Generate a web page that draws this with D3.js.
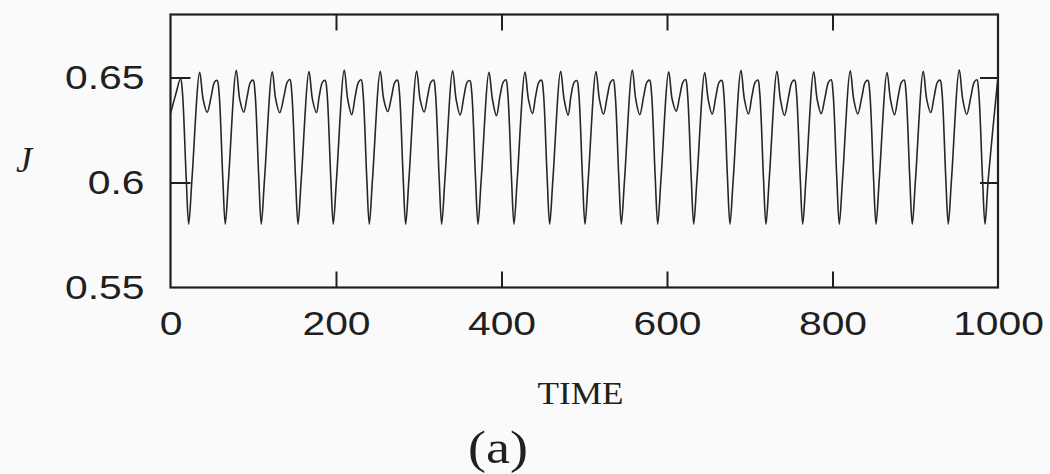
<!DOCTYPE html>
<html>
<head>
<meta charset="utf-8">
<script src="https://cdn.jsdelivr.net/npm/d3@7"></script>
<style>
  html, body { margin: 0; padding: 0; background: #fafafa; }
  svg { display: block; }
</style>
</head>
<body>
<svg id="chart" width="1050" height="474"></svg>
<script>
// Axis ticks and labels
const xTicks = [0, 200, 400, 600, 800, 1000];
const xTickLabels = ["0", "200", "400", "600", "800", "1000"];
const yTicks = [0.55, 0.6, 0.65];
const yTickLabels = ["0.55", "0.6", "0.65"];
const xInnerTicks = [200, 400, 600, 800];
const yInnerTicks = [0.6, 0.65];

// J(t): trough, rise, first peak, dip, second peak, fall — one row per cycle
const time = [
  0.0, 6.0, 12.2, 14.4, 19.0,
  22.0, 26.0, 35.3, 39.5, 44.3, 49.2, 53.2, 56.4, 58.6, 63.2,
  66.2, 70.2, 79.5, 83.7, 88.5, 92.7, 96.7, 99.9, 102.1, 106.7,
  109.7, 113.7, 123.0, 127.2, 132.0, 137.1, 141.1, 144.3, 146.5, 151.1,
  154.1, 158.1, 167.4, 171.6, 176.4, 179.7, 183.7, 186.9, 189.1, 193.7,
  196.7, 200.7, 210.0, 214.2, 219.0, 223.2, 227.2, 230.4, 232.6, 237.2,
  240.2, 244.2, 253.5, 257.7, 262.5, 267.2, 271.2, 274.4, 276.6, 281.2,
  284.2, 288.2, 297.5, 301.7, 306.5, 310.7, 314.7, 317.9, 320.1, 324.7,
  327.7, 331.7, 341.0, 345.2, 350.0, 354.6, 358.6, 361.8, 364.0, 368.6,
  371.6, 375.6, 384.9, 389.1, 393.9, 398.1, 402.1, 405.3, 407.5, 412.1,
  415.1, 419.1, 428.4, 432.6, 437.4, 441.2, 445.2, 448.4, 450.6, 455.2,
  458.2, 462.2, 471.5, 475.7, 480.5, 483.9, 487.9, 491.1, 493.3, 497.9,
  500.9, 504.9, 514.2, 518.4, 523.2, 527.8, 531.8, 535.0, 537.2, 541.8,
  544.8, 548.8, 558.1, 562.3, 567.1, 571.8, 575.8, 579.0, 581.2, 585.8,
  588.8, 592.8, 602.1, 606.3, 611.1, 615.3, 619.3, 622.5, 624.7, 629.3,
  632.3, 636.3, 645.6, 649.8, 654.6, 659.1, 663.1, 666.3, 668.5, 673.1,
  676.1, 680.1, 689.4, 693.6, 698.4, 702.6, 706.6, 709.8, 712.0, 716.6,
  719.6, 723.6, 732.9, 737.1, 741.9, 747.0, 751.0, 754.2, 756.4, 761.0,
  764.0, 768.0, 777.3, 781.5, 786.3, 791.2, 795.2, 798.4, 800.6, 805.2,
  808.2, 812.2, 821.5, 825.7, 830.5, 835.6, 839.6, 842.8, 845.0, 849.6,
  852.6, 856.6, 865.9, 870.1, 874.9, 879.4, 883.4, 886.6, 888.8, 893.4,
  896.4, 900.4, 909.7, 913.9, 918.7, 922.9, 926.9, 930.1, 932.3, 936.9,
  939.9, 943.9, 953.2, 957.4, 962.2, 967.3, 971.3, 974.5, 976.7, 981.3,
  984.3, 988.3, 1000.0
];
const jValues = [
  0.6328, 0.6415, 0.6495, 0.6430, 0.6020,
  0.5802, 0.6020, 0.6525, 0.6395, 0.6334, 0.6410, 0.6478, 0.6486, 0.6430, 0.6020,
  0.5802, 0.6020, 0.6534, 0.6395, 0.6335, 0.6410, 0.6478, 0.6487, 0.6430, 0.6020,
  0.5802, 0.6020, 0.6527, 0.6395, 0.6332, 0.6410, 0.6478, 0.6490, 0.6430, 0.6020,
  0.5802, 0.6020, 0.6528, 0.6395, 0.6333, 0.6410, 0.6478, 0.6486, 0.6430, 0.6020,
  0.5802, 0.6020, 0.6536, 0.6395, 0.6323, 0.6410, 0.6478, 0.6489, 0.6430, 0.6020,
  0.5802, 0.6020, 0.6530, 0.6395, 0.6338, 0.6410, 0.6478, 0.6487, 0.6430, 0.6020,
  0.5802, 0.6020, 0.6531, 0.6395, 0.6336, 0.6410, 0.6478, 0.6488, 0.6430, 0.6020,
  0.5802, 0.6020, 0.6532, 0.6395, 0.6321, 0.6410, 0.6478, 0.6485, 0.6430, 0.6020,
  0.5802, 0.6020, 0.6525, 0.6395, 0.6318, 0.6410, 0.6478, 0.6489, 0.6430, 0.6020,
  0.5802, 0.6020, 0.6526, 0.6395, 0.6328, 0.6410, 0.6478, 0.6487, 0.6430, 0.6020,
  0.5802, 0.6020, 0.6530, 0.6395, 0.6321, 0.6410, 0.6478, 0.6485, 0.6430, 0.6020,
  0.5802, 0.6020, 0.6528, 0.6395, 0.6325, 0.6410, 0.6478, 0.6489, 0.6430, 0.6020,
  0.5802, 0.6020, 0.6536, 0.6395, 0.6323, 0.6410, 0.6478, 0.6487, 0.6430, 0.6020,
  0.5802, 0.6020, 0.6527, 0.6395, 0.6340, 0.6410, 0.6478, 0.6490, 0.6430, 0.6020,
  0.5802, 0.6020, 0.6523, 0.6395, 0.6325, 0.6410, 0.6478, 0.6486, 0.6430, 0.6020,
  0.5802, 0.6020, 0.6534, 0.6395, 0.6326, 0.6410, 0.6478, 0.6488, 0.6430, 0.6020,
  0.5802, 0.6020, 0.6530, 0.6395, 0.6319, 0.6410, 0.6478, 0.6487, 0.6430, 0.6020,
  0.5802, 0.6020, 0.6527, 0.6395, 0.6328, 0.6410, 0.6478, 0.6489, 0.6430, 0.6020,
  0.5802, 0.6020, 0.6532, 0.6395, 0.6327, 0.6410, 0.6478, 0.6486, 0.6430, 0.6020,
  0.5802, 0.6020, 0.6524, 0.6395, 0.6322, 0.6410, 0.6478, 0.6488, 0.6430, 0.6020,
  0.5802, 0.6020, 0.6530, 0.6395, 0.6333, 0.6410, 0.6478, 0.6487, 0.6430, 0.6020,
  0.5802, 0.6020, 0.6537, 0.6395, 0.6324, 0.6410, 0.6478, 0.6489, 0.6430, 0.6020,
  0.5802, 0.6020, 0.6505
];

const frame = { left: 170.5, right: 998, top: 14.5, bottom: 287.5 };
const ink = "#202020";
const sansStretch = 1.2;

const x = d3.scaleLinear().domain([0, 1000]).range([frame.left, frame.right]);
const y = d3.scaleLinear().domain([0.55, 0.68]).range([frame.bottom, frame.top]);

const svg = d3.select("#chart");

// Widen sans tick labels slightly
function stretchLabels(sel) {
  sel.selectAll("text").each(function () {
    const len = this.getComputedTextLength();
    d3.select(this).attr("textLength", len * sansStretch).attr("lengthAdjust", "spacingAndGlyphs");
  });
}

function styleAxis(g) {
  g.select(".domain").remove();
  g.selectAll(".tick line").attr("stroke", ink).attr("stroke-width", 2);
  g.selectAll("text")
    .attr("fill", ink)
    .style("font-family", "'Liberation Sans', Arial, Helvetica, sans-serif")
    .style("font-size", "34px");
}

// Bottom axis with labels
svg.append("g")
  .attr("transform", `translate(0,${frame.bottom})`)
  .call(d3.axisBottom(x).tickValues(xTicks)
    .tickFormat((d, i) => xTickLabels[i]).tickSize(-16).tickPadding(23.4))
  .call(styleAxis)
  .call(g => g.selectAll(".tick").filter(d => d === 0 || d === 1000).select("line").remove())
  .call(stretchLabels);

// Top axis, ticks only
svg.append("g")
  .attr("transform", `translate(0,${frame.top})`)
  .call(d3.axisTop(x).tickValues(xInnerTicks).tickFormat("").tickSize(-16))
  .call(styleAxis);

// Left axis with labels
svg.append("g")
  .attr("transform", `translate(${frame.left},0)`)
  .call(d3.axisLeft(y).tickValues(yTicks)
    .tickFormat((d, i) => yTickLabels[i]).tickSize(-20).tickPadding(26))
  .call(styleAxis)
  .call(g => g.selectAll(".tick").filter(d => d === 0.55).select("line").remove())
  .call(stretchLabels);

// Right axis, ticks only
svg.append("g")
  .attr("transform", `translate(${frame.right},0)`)
  .call(d3.axisRight(y).tickValues(yInnerTicks).tickFormat("").tickSize(-18))
  .call(styleAxis);

// Plot frame
svg.append("rect")
  .attr("x", frame.left).attr("y", frame.top)
  .attr("width", frame.right - frame.left).attr("height", frame.bottom - frame.top)
  .attr("fill", "none").attr("stroke", ink).attr("stroke-width", 2.2);

// Clip the trace to the frame
svg.append("clipPath").attr("id", "plot-clip")
  .append("rect")
  .attr("x", frame.left).attr("y", frame.top)
  .attr("width", frame.right - frame.left).attr("height", frame.bottom - frame.top);

const points = time.map((t, i) => [t, jValues[i]]);
const line = d3.line()
  .x(d => x(d[0]))
  .y(d => y(d[1]))
  .curve(d3.curveCatmullRom.alpha(0.5));

svg.append("path")
  .datum(points)
  .attr("clip-path", "url(#plot-clip)")
  .attr("d", line)
  .attr("fill", "none")
  .attr("stroke", "#262626")
  .attr("stroke-width", 1.6)
  .attr("stroke-linejoin", "round");

// Axis titles and panel label
svg.append("text")
  .attr("x", 24).attr("y", 172)
  .attr("text-anchor", "middle")
  .style("font-family", "'Liberation Serif', 'Times New Roman', serif")
  .style("font-style", "italic")
  .style("font-size", "36px")
  .attr("fill", ink)
  .text("J");

svg.append("text")
  .attr("x", 580.5).attr("y", 404.3)
  .attr("text-anchor", "middle")
  .attr("textLength", 86).attr("lengthAdjust", "spacingAndGlyphs")
  .style("font-family", "'Liberation Serif', 'Times New Roman', serif")
  .style("font-size", "31.5px")
  .attr("fill", ink)
  .text("TIME");

svg.append("text")
  .attr("x", 498).attr("y", 463)
  .attr("text-anchor", "middle")
  .attr("textLength", 60).attr("lengthAdjust", "spacingAndGlyphs")
  .style("font-family", "'Liberation Serif', 'Times New Roman', serif")
  .style("font-size", "46px")
  .attr("fill", ink)
  .text("(a)");
</script>
</body>
</html>
